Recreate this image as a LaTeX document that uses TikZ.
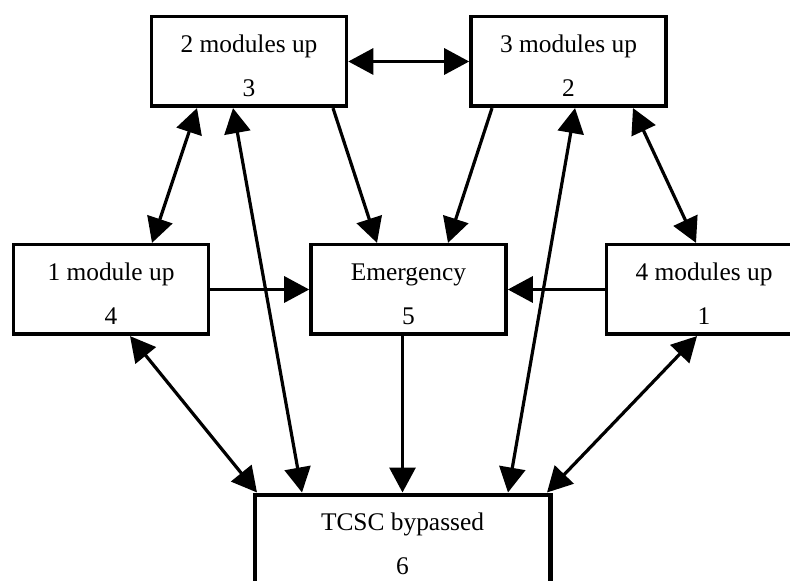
\documentclass[tikz,border=0pt]{standalone}
\usepackage{fontspec}
\setmainfont{Liberation Serif}
\usetikzlibrary{arrows.meta}

% extra room above the first line, pushes the text down a little
\newcommand{\topgap}{\rule{0pt}{13.3pt}}

\begin{document}
\begin{tikzpicture}[
  x=0.5pt, y=-0.5pt,
  state/.style={draw, line width=1.8pt, minimum width=97.5pt, minimum height=44.8pt,
              align=center, inner sep=0pt, font=\fontsize{12.7}{22}\selectfont},
  arr/.style={-{Triangle[length=12.5pt,width=13pt]}, line width=1.6pt},
  dbl/.style={{Triangle[length=12.5pt,width=13pt]}-{Triangle[length=12.5pt,width=13pt]}, line width=1.6pt}
]
  \useasboundingbox (0,0) rectangle (790,581);
  \clip (0,0) rectangle (790,581);

  \node[state] (m2) at (249,  61.5) {\topgap 2 modules up\\3};
  \node[state] (m3) at (568.5,61.5) {\topgap 3 modules up\\2};
  \node[state] (m1) at (111, 289.5) {\topgap 1 module up\\4};
  \node[state] (em) at (408.5,289.5) {\topgap Emergency\\5};
  \node[state] (m4) at (704, 289.5) {\topgap 4 modules up\\1};
  \node[state, minimum width=147.8pt, line width=2.2pt] (tc) at (402.5,539.5) {\topgap TCSC bypassed\\6};

  \draw[dbl] (m2.east) -- (m3.west);
  \draw[dbl] ([shift={(-52,0)}]m2.south) -- ([shift={(41,0)}]m1.north);
  \draw[dbl] ([shift={(-16,0)}]m2.south) -- ([shift={(-100.5,0)}]tc.north);
  \draw[arr] ([shift={(84,0)}]m2.south) -- ([shift={(-31.5,0)}]em.north);
  \draw[arr] ([shift={(-76.5,0)}]m3.south) -- ([shift={(39.5,0)}]em.north);
  \draw[dbl] ([shift={(6.5,0)}]m3.south) -- ([shift={(105.5,0)}]tc.north);
  \draw[dbl] ([shift={(64.5,0)}]m3.south) -- ([shift={(-8,0)}]m4.north);
  \draw[arr] (m1.east) -- (em.west);
  \draw[arr] (m4.west) -- (em.east);
  \draw[dbl] ([shift={(19,0)}]m1.south) -- ([shift={(-145.5,0)}]tc.north);
  \draw[arr] (em.south -| tc.north) -- (tc.north);
  \draw[dbl] ([shift={(-7,0)}]m4.south) -- ([shift={(144.5,0)}]tc.north);
\end{tikzpicture}
\end{document}
